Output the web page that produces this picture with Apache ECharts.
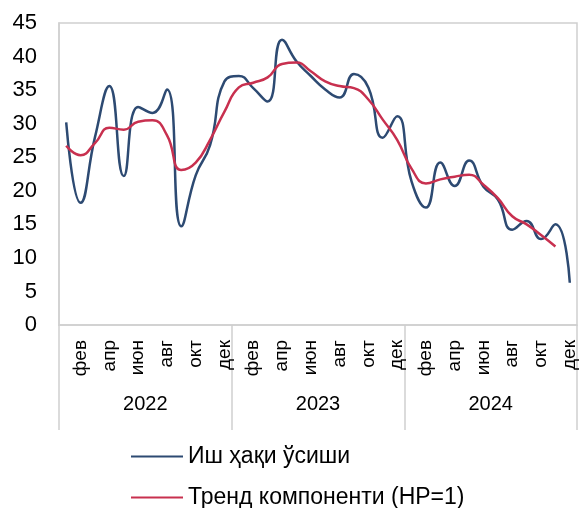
<!DOCTYPE html>
<html>
<head>
<meta charset="utf-8"/>
<title>Иш ҳақи ўсиши</title>
<script src="https://cdn.jsdelivr.net/npm/echarts@6/dist/echarts.min.js"></script>
<style>
  html, body { margin: 0; padding: 0; background: #fff; }
  #chart { width: 582px; height: 508px; }
</style>
</head>
<body>
<div id="chart"></div>
<script>
// месяцы 2022-2024
var monthNames = ['янв','фев','мар','апр','май','июн','июл','авг','сен','окт','ноя','дек'];
var years = ['2022', '2023', '2024'];
var months = [];
for (var y = 0; y < years.length; y++) {
    for (var m = 0; m < 12; m++) months.push(monthNames[m]);
}

// Иш ҳақи ўсиши
var wageGrowth = [30.2, 18.2, 28.0, 35.6, 22.2, 32.5, 31.6, 35.1, 14.7, 22.3, 26.8, 36.3,
                  37.1, 35.3, 33.3, 42.5, 39.3, 37.1, 35.1, 33.9, 37.4, 35.4, 27.9, 31.1,
                  21.4, 17.5, 24.2, 20.7, 24.5, 20.6, 18.7, 14.2, 15.5, 12.8, 15.0, 6.3];
// Тренд компоненти (HP=1)
var trend = [26.7, 25.3, 27.1, 29.4, 29.1, 30.3, 30.5, 28.3, 23.1, 24.2, 27.6, 31.8,
             35.4, 36.1, 36.9, 38.9, 39.1, 37.8, 36.3, 35.6, 35.3, 33.6, 30.6, 27.6,
             23.3, 21.1, 21.7, 22.1, 22.4, 20.9, 18.9, 16.2, 15.0, 13.4, 11.7];

var seriesNames = ['Иш ҳақи ўсиши', 'Тренд компоненти (HP=1)'];
var colors = ['#2d4a72', '#c8304f'];

var font = 'Arial, "Liberation Sans", sans-serif';
var gray = '#d0d0d0';

var myChart = echarts.init(document.getElementById('chart'));

// по одной легенде на строку, чтобы не переносилось в колонки
function legendRow(name, top) {
    return {
        orient: 'vertical',
        left: 131,
        top: top,
        padding: 0,
        icon: 'rect',
        itemWidth: 52,
        itemHeight: 2,
        itemGap: 0,
        textStyle: { fontFamily: font, fontSize: 23, color: '#000', lineHeight: 22 },
        data: [name]
    };
}

var option = {
    animation: false,
    grid: {
        left: 59,
        right: 5,
        top: 23,
        bottom: 183,
        show: true,
        borderColor: gray,
        borderWidth: 1.5
    },
    legend: [legendRow(seriesNames[0], 445), legendRow(seriesNames[1], 486)],
    xAxis: [{
        type: 'category',
        data: months,
        boundaryGap: true,
        axisLine: { show: true, lineStyle: { color: gray, width: 1.5 } },
        axisTick: { show: false },
        axisLabel: {
            interval: function (index) { return index % 2 === 1; },
            rotate: 90,
            margin: 15,
            fontFamily: font,
            fontSize: 19,
            color: '#000'
        }
    }, {
        type: 'category',
        data: years,
        position: 'bottom',
        boundaryGap: true,
        axisLine: { show: false },
        axisTick: { show: true, length: 105, interval: 0, lineStyle: { color: gray, width: 1.5 } },
        axisLabel: {
            margin: 69,
            fontFamily: font,
            fontSize: 20,
            color: '#000'
        }
    }],
    yAxis: {
        type: 'value',
        min: 0,
        max: 45,
        interval: 5,
        axisLine: { show: true, lineStyle: { color: gray, width: 1.5 } },
        axisTick: { show: false },
        splitLine: { show: false },
        axisLabel: {
            margin: 22,
            fontFamily: font,
            fontSize: 22,
            color: '#000'
        }
    },
    series: [{
        name: seriesNames[0],
        type: 'line',
        xAxisIndex: 0,
        data: wageGrowth,
        smooth: true,
        symbol: 'none',
        lineStyle: { color: colors[0], width: 2.5 },
        itemStyle: { color: colors[0] }
    }, {
        name: seriesNames[1],
        type: 'line',
        xAxisIndex: 0,
        data: trend,
        smooth: true,
        symbol: 'none',
        lineStyle: { color: colors[1], width: 2.5 },
        itemStyle: { color: colors[1] }
    }]
};

myChart.setOption(option);
</script>
</body>
</html>
